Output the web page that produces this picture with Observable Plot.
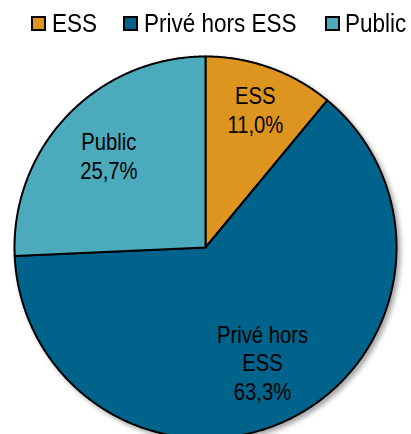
<!DOCTYPE html>
<html><head><meta charset="utf-8">
<script src="https://cdn.jsdelivr.net/npm/d3@7"></script>
<script src="https://cdn.jsdelivr.net/npm/@observablehq/plot@0.6"></script>
<style>
body{margin:0;background:#fff;overflow:hidden;}
#wrap{width:411px;}
#legend{position:relative;height:44px;font-family:"Liberation Sans",Arial,sans-serif;}
.sw{position:absolute;top:16px;width:11px;height:11px;border:2px solid #000;}
.lt{position:absolute;top:11px;font-size:25px;line-height:25px;transform:scaleX(0.9);transform-origin:0 0;white-space:nowrap;color:#000;}
svg g[aria-label="line"]{filter:drop-shadow(3px 3px 2.5px rgba(0,0,0,0.35));}
</style></head><body><div id="wrap"><div id="legend"></div></div>
<script>
// data
const categories = ["ESS", "Privé hors ESS", "Public"];
const shares = [11.0, 63.3, 25.7];
const pieLabels = ["ESS", "Privé hors\nESS", "Public"];
const colors = ["#DE9520", "#00638C", "#4BAABC"];

// layout
const legendSwatchX = [31, 123, 325];
const legendTextX = [52, 144, 345];
const labelRadius = [0.77, 0.67, 0.70];

const legend = document.getElementById("legend");
categories.forEach((c, i) => {
  const s = document.createElement("div");
  s.className = "sw"; s.style.left = legendSwatchX[i] + "px"; s.style.background = colors[i];
  legend.appendChild(s);
  const t = document.createElement("div");
  t.className = "lt"; t.style.left = legendTextX[i] + "px"; t.textContent = c;
  legend.appendChild(t);
});

const arcs = d3.pie().sort(null)(shares);
const points = [];
const labels = [];
arcs.forEach((a, i) => {
  const cat = categories[i];
  points.push({x: 0, y: 0, cat});
  const n = Math.ceil((a.endAngle - a.startAngle) / (Math.PI / 360));
  for (let k = 0; k <= n; k++) {
    const t = a.startAngle + (a.endAngle - a.startAngle) * k / n;
    points.push({x: Math.sin(t), y: Math.cos(t), cat});
  }
  points.push({x: 0, y: 0, cat});
  const m = (a.startAngle + a.endAngle) / 2;
  labels.push({
    x: Math.sin(m) * labelRadius[i],
    y: Math.cos(m) * labelRadius[i],
    text: pieLabels[i] + "\n" + shares[i].toFixed(1).replace(".", ",") + "%"
  });
});

const chart = Plot.plot({
  width: 411,
  height: 390,
  x: {domain: [-1, 1], range: [14, 396], axis: null},
  y: {domain: [-1, 1], range: [394, 12], axis: null},
  color: {domain: categories, range: colors},
  style: {background: "white", fontFamily: "'Liberation Sans', Arial, sans-serif"},
  marks: [
    Plot.line(points, {x: "x", y: "y", z: "cat", fill: "cat", stroke: "#000", strokeWidth: 2, strokeLinejoin: "round"}),
    Plot.text(labels, {x: "x", y: "y", text: "text", fontSize: 23, lineHeight: 1.25, fill: "#000"})
  ]
});
document.getElementById("wrap").appendChild(chart);
chart.querySelectorAll('g[aria-label="text"] text').forEach(el => {
  const tr = el.getAttribute("transform") || "";
  el.setAttribute("transform", tr + " scale(0.88,1)");
});
</script></body></html>
